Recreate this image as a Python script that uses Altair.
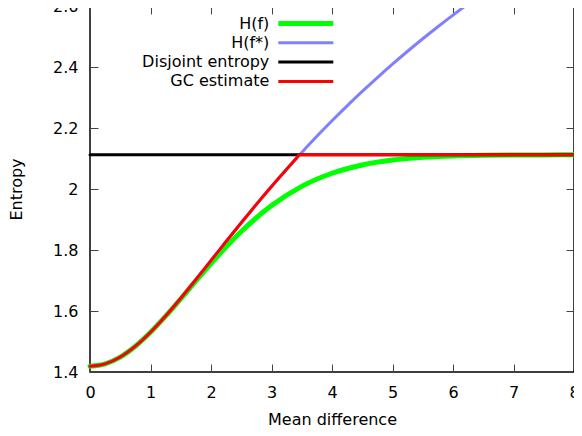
import altair as alt
import pandas as pd

# ---- data ----
SERIES = ["H(f)", "H(f*)", "Disjoint entropy", "GC estimate"]
COLORS = ["#00ff00", "#8080ff", "#000000", "#ff0000"]
WIDTHS = [5, 3, 3, 3]

# H(f): entropy of the mixture
HF_D = [0, 0.25, 0.5, 0.75, 1.0, 1.25, 1.5, 1.75, 2.0, 2.5, 3.0, 3.5, 4.0, 4.5,
        5.0, 5.5, 6.0, 6.5, 7.0, 7.5, 8.0]
HF_H = [1.4189, 1.4267, 1.4490, 1.4846, 1.5303, 1.5831, 1.6401, 1.6984, 1.7557,
        1.8606, 1.9456, 2.0087, 2.0516, 2.0789, 2.0949, 2.1037, 2.1082, 2.1104,
        2.1114, 2.1118, 2.1120]

# H(f*)
HS_D = [0, 0.25, 0.5, 0.75, 1.0, 1.25, 1.5, 1.75, 2.0, 2.25, 2.5, 2.75, 3.0, 3.25,
        3.5, 3.75, 4.0, 4.25, 4.5, 4.75, 5.0, 5.25, 5.5, 5.75, 6.0, 6.25, 6.5]
HS_H = [1.4189, 1.4267, 1.4492, 1.4847, 1.5305, 1.5838, 1.6420, 1.7032, 1.7655,
        1.8278, 1.8894, 1.9496, 2.0082, 2.0650, 2.1198, 2.1727, 2.2236, 2.2727,
        2.3200, 2.3655, 2.4094, 2.4517, 2.4926, 2.5321, 2.5702, 2.6071, 2.6428]

# Disjoint entropy
DJ_D = [0, 8]
DJ_H = [2.1121, 2.1121]

# GC estimate
GC_D = [0, 0.25, 0.5, 0.75, 1.0, 1.25, 1.5, 1.75, 2.0, 2.25, 2.5, 2.75, 3.0, 3.25,
        3.4, 3.4641, 8.0]
GC_H = [1.4189, 1.4267, 1.4492, 1.4847, 1.5305, 1.5838, 1.6420, 1.7032, 1.7655,
        1.8278, 1.8894, 1.9496, 2.0082, 2.0650, 2.0981, 2.1121, 2.1121]

XTICKS = [0, 1, 2, 3, 4, 5, 6, 7, 8]
YTICKS = [1.4, 1.6, 1.8, 2.0, 2.2, 2.4, 2.6]

FONT = "DejaVu Sans"
W, H = 484, 366

xs = alt.Scale(domain=[0, 8], nice=False, zero=False)
ys = alt.Scale(domain=[1.4, 2.6], nice=False, zero=False)

common = dict(tickSize=8, offset=-8, domain=False, grid=False,
              tickColor="#444", tickWidth=1)

ax_bottom = alt.Axis(orient="bottom", values=XTICKS, format="d", labelPadding=12,
                     labelFlush=False, labelOverlap=False,
                     title="Mean difference", titleX=W / 2, titleY=60,
                     titleBaseline="alphabetic", titleAlign="center", **common)
ax_left = alt.Axis(orient="left", values=YTICKS, format=".1~f", labelPadding=12,
                   labelFlush=False, labelOverlap=False,
                   title="Entropy", titleX=-76.5, titleY=H / 2, titleAngle=270,
                   titleBaseline="alphabetic", titleAlign="center", **common)
ax_top = alt.Axis(orient="top", values=XTICKS, labels=False, title=None, **common)
ax_right = alt.Axis(orient="right", values=YTICKS, labels=False, title=None, **common)


def frame(d, h):
    return pd.DataFrame({"d": d, "h": h})


green = alt.Chart(frame(HF_D, HF_H)).mark_line(
    color=COLORS[0], strokeWidth=WIDTHS[0], interpolate="monotone", strokeCap="round"
).encode(x=alt.X("d:Q", scale=xs, axis=ax_bottom),
         y=alt.Y("h:Q", scale=ys, axis=ax_left))

blue = alt.Chart(frame(HS_D, HS_H)).mark_line(
    color=COLORS[1], strokeWidth=WIDTHS[1], interpolate="monotone", clip=True
).encode(x=alt.X("d:Q", scale=xs, axis=ax_top),
         y=alt.Y("h:Q", scale=ys, axis=ax_right))

black = alt.Chart(frame(DJ_D, DJ_H)).mark_line(
    color=COLORS[2], strokeWidth=WIDTHS[2], strokeCap="round"
).encode(x=alt.X("d:Q", scale=xs, axis=None),
         y=alt.Y("h:Q", scale=ys, axis=None))

red = alt.Chart(frame(GC_D, GC_H)).mark_line(
    color=COLORS[3], strokeWidth=WIDTHS[3], strokeCap="round", interpolate="monotone"
).encode(x=alt.X("d:Q", scale=xs, axis=None),
         y=alt.Y("h:Q", scale=ys, axis=None))

# ---- key (top, inside), labels left of samples ----
LEG_Y0, LEG_STEP = 17.5, 19.3
LEG_TEXT_X, LEG_X1, LEG_X2 = 179.3, 188.3, 243.3
legend_layers = []
for i, name in enumerate(SERIES):
    yy = LEG_Y0 + i * LEG_STEP
    legend_layers.append(
        alt.Chart(pd.DataFrame({"label": [name]})).mark_text(
            align="right", baseline="middle", font=FONT, fontSize=16, color="#000"
        ).encode(x=alt.value(LEG_TEXT_X), y=alt.value(yy), text="label:N")
    )
    legend_layers.append(
        alt.Chart(pd.DataFrame({"label": [name]})).mark_rule(
            color=COLORS[i], strokeWidth=WIDTHS[i]
        ).encode(x=alt.value(LEG_X1), x2=alt.value(LEG_X2), y=alt.value(yy))
    )

chart = alt.layer(green, blue, black, red, *legend_layers).properties(
    width=W, height=H,
    autosize=alt.AutoSizeParams(type="none"),
    padding={"left": 82, "top": -2, "right": 0, "bottom": 56},
).configure_view(
    stroke="#000", strokeWidth=1.5
).configure_axis(
    labelFont=FONT, labelFontSize=16, labelColor="#000",
    titleFont=FONT, titleFontSize=16, titleFontWeight="normal", titleColor="#000",
)

chart.save("out.html", embed_options={"renderer": "svg", "actions": False})
